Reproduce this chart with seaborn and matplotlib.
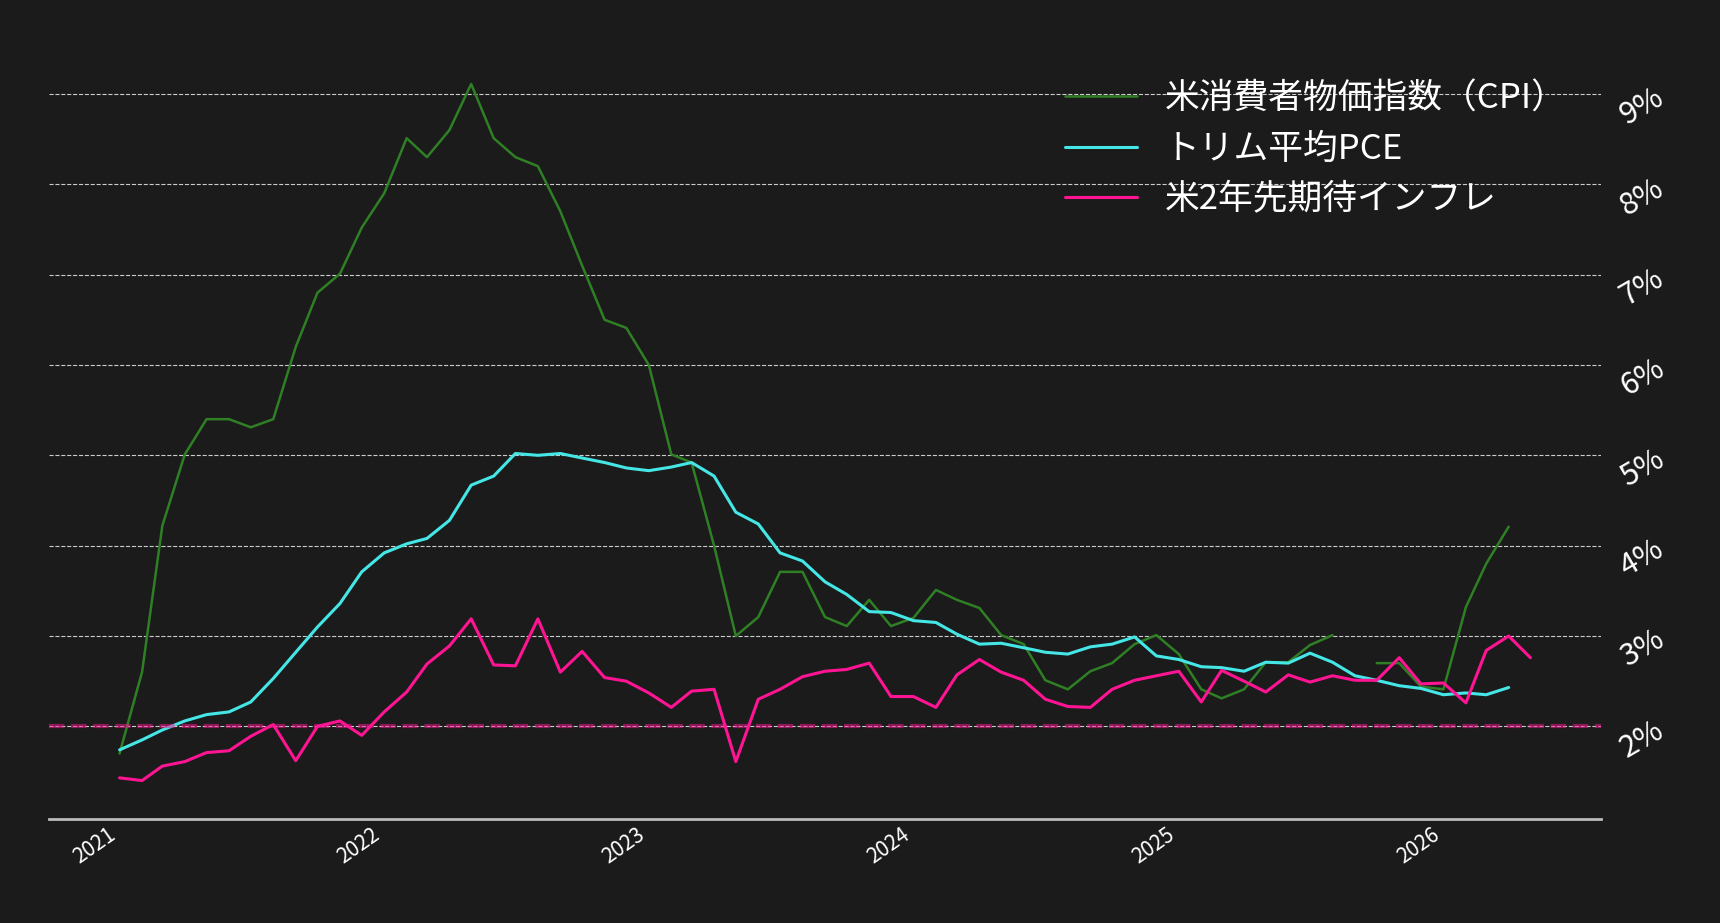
import numpy as np
import pandas as pd
import matplotlib
import matplotlib.pyplot as plt
import matplotlib.dates as mdates
import seaborn as sns

matplotlib.use('Agg')

# monthly series starting 2021-01
cpi = [1.70, 2.60, 4.22, 5.01, 5.40, 5.40, 5.31, 5.40, 6.20, 6.80,
       7.01, 7.52, 7.90, 8.51, 8.30, 8.60, 9.11, 8.51, 8.30, 8.20,
       7.70, 7.10, 6.50, 6.41, 6.00, 5.01, 4.92, 4.00, 3.00, 3.21,
       3.71, 3.71, 3.21, 3.11, 3.40, 3.11, 3.20, 3.51, 3.40, 3.31,
       3.01, 2.91, 2.51, 2.41, 2.61, 2.70, 2.91, 3.01, 2.80, 2.41,
       2.31, 2.41, 2.71, 2.71, 2.90, 3.01, np.nan, 2.70, 2.70, 2.44,
       2.41, 3.32, 3.80, 4.21]
trimmed_pce = [1.74, 1.85, 1.96, 2.06, 2.13, 2.16, 2.27, 2.53, 2.82, 3.10,
               3.36, 3.71, 3.92, 4.02, 4.08, 4.28, 4.67, 4.77, 5.02, 5.00,
               5.02, 4.97, 4.92, 4.86, 4.83, 4.87, 4.92, 4.77, 4.37, 4.24,
               3.92, 3.83, 3.60, 3.46, 3.27, 3.26, 3.17, 3.15, 3.02, 2.91,
               2.92, 2.87, 2.82, 2.80, 2.88, 2.91, 2.99, 2.78, 2.74, 2.66,
               2.65, 2.61, 2.71, 2.70, 2.81, 2.71, 2.56, 2.51, 2.45, 2.42,
               2.35, 2.37, 2.35, 2.43]
expect_2y = [1.43, 1.40, 1.56, 1.61, 1.71, 1.73, 1.89, 2.02, 1.62, 2.00,
             2.06, 1.90, 2.16, 2.38, 2.69, 2.89, 3.19, 2.68, 2.67, 3.19,
             2.60, 2.83, 2.54, 2.50, 2.37, 2.21, 2.39, 2.41, 1.61, 2.30,
             2.41, 2.55, 2.61, 2.63, 2.70, 2.33, 2.33, 2.21, 2.57, 2.74,
             2.60, 2.51, 2.30, 2.22, 2.21, 2.41, 2.51, 2.56, 2.61, 2.27,
             2.62, 2.50, 2.38, 2.57, 2.49, 2.56, 2.51, 2.51, 2.76, 2.47,
             2.48, 2.26, 2.84, 3.00, 2.76]

labels = ['米消費者物価指数（CPI）', 'トリム平均PCE', '米2年先期待インフレ']
colors = ['#2f7f25', '#45e6e6', '#ff1493']
target = 2.0
y_ticks = [2, 3, 4, 5, 6, 7, 8, 9]

dates = pd.date_range('2021-01-01', periods=len(expect_2y), freq='MS')

# CPI has a missing month, split it so the gap shows
cpi_df = pd.DataFrame({'date': dates[:len(cpi)], 'value': cpi})
cpi_df['seg'] = cpi_df['value'].isna().cumsum()
cpi_df = cpi_df.dropna()
pce_df = pd.DataFrame({'date': dates[:len(trimmed_pce)], 'value': trimmed_pce})
exp_df = pd.DataFrame({'date': dates, 'value': expect_2y})

sns.set_theme(style='dark')
bg = '#1b1b1b'
plt.rcParams['font.family'] = ['Noto Sans CJK JP', 'DejaVu Sans']

fig = plt.figure(figsize=(17.2, 9.23), dpi=100, facecolor=bg)
ax = fig.add_axes([0.0285, 0.1132, 0.9023, 0.834])
ax.set_facecolor(bg)

sns.lineplot(data=cpi_df, x='date', y='value', units='seg', estimator=None,
             color=colors[0], linewidth=1.8, ax=ax)
sns.lineplot(data=pce_df, x='date', y='value', color=colors[1],
             linewidth=2.2, ax=ax)
sns.lineplot(data=exp_df, x='date', y='value', color=colors[2],
             linewidth=2.2, ax=ax)
ax.axhline(target, color=colors[2], linestyle='--', linewidth=3, alpha=0.5)

# legend handles
handles = [plt.Line2D([], [], color=colors[0], linewidth=1.8),
           plt.Line2D([], [], color=colors[1], linewidth=2.2),
           plt.Line2D([], [], color=colors[2], linewidth=2.2)]
leg = ax.legend(handles, labels, loc='upper right', bbox_to_anchor=(0.998, 0.998),
                frameon=False, fontsize=25, handlelength=2.07,
                handletextpad=0.79, labelspacing=0.44)
for t in leg.get_texts():
    t.set_color('white')

ax.set_ylim(0.98, 9.5)
ax.set_yticks(y_ticks)
ax.set_yticklabels([f'{v}%' for v in y_ticks])
ax.yaxis.tick_right()
ax.tick_params(axis='y', length=0, pad=10, labelsize=22, labelcolor='white',
               labelrotation=30)
ax.xaxis.set_major_locator(mdates.YearLocator())
ax.xaxis.set_major_formatter(mdates.DateFormatter('%Y'))
ax.tick_params(axis='x', length=0, pad=4, labelsize=15, labelcolor='white')
for lab in ax.get_xticklabels():
    lab.set_rotation(35)
    lab.set_ha('right')

ax.grid(axis='y', color='#cccccc', linestyle='--', linewidth=0.8)
ax.grid(axis='x', visible=False)
for side in ['left', 'right', 'top']:
    ax.spines[side].set_visible(False)
ax.spines['bottom'].set_color('#bbbbbb')
ax.spines['bottom'].set_linewidth(2)
ax.set_xlabel('')
ax.set_ylabel('')

plt.savefig('out.png', dpi=100, facecolor=bg)
